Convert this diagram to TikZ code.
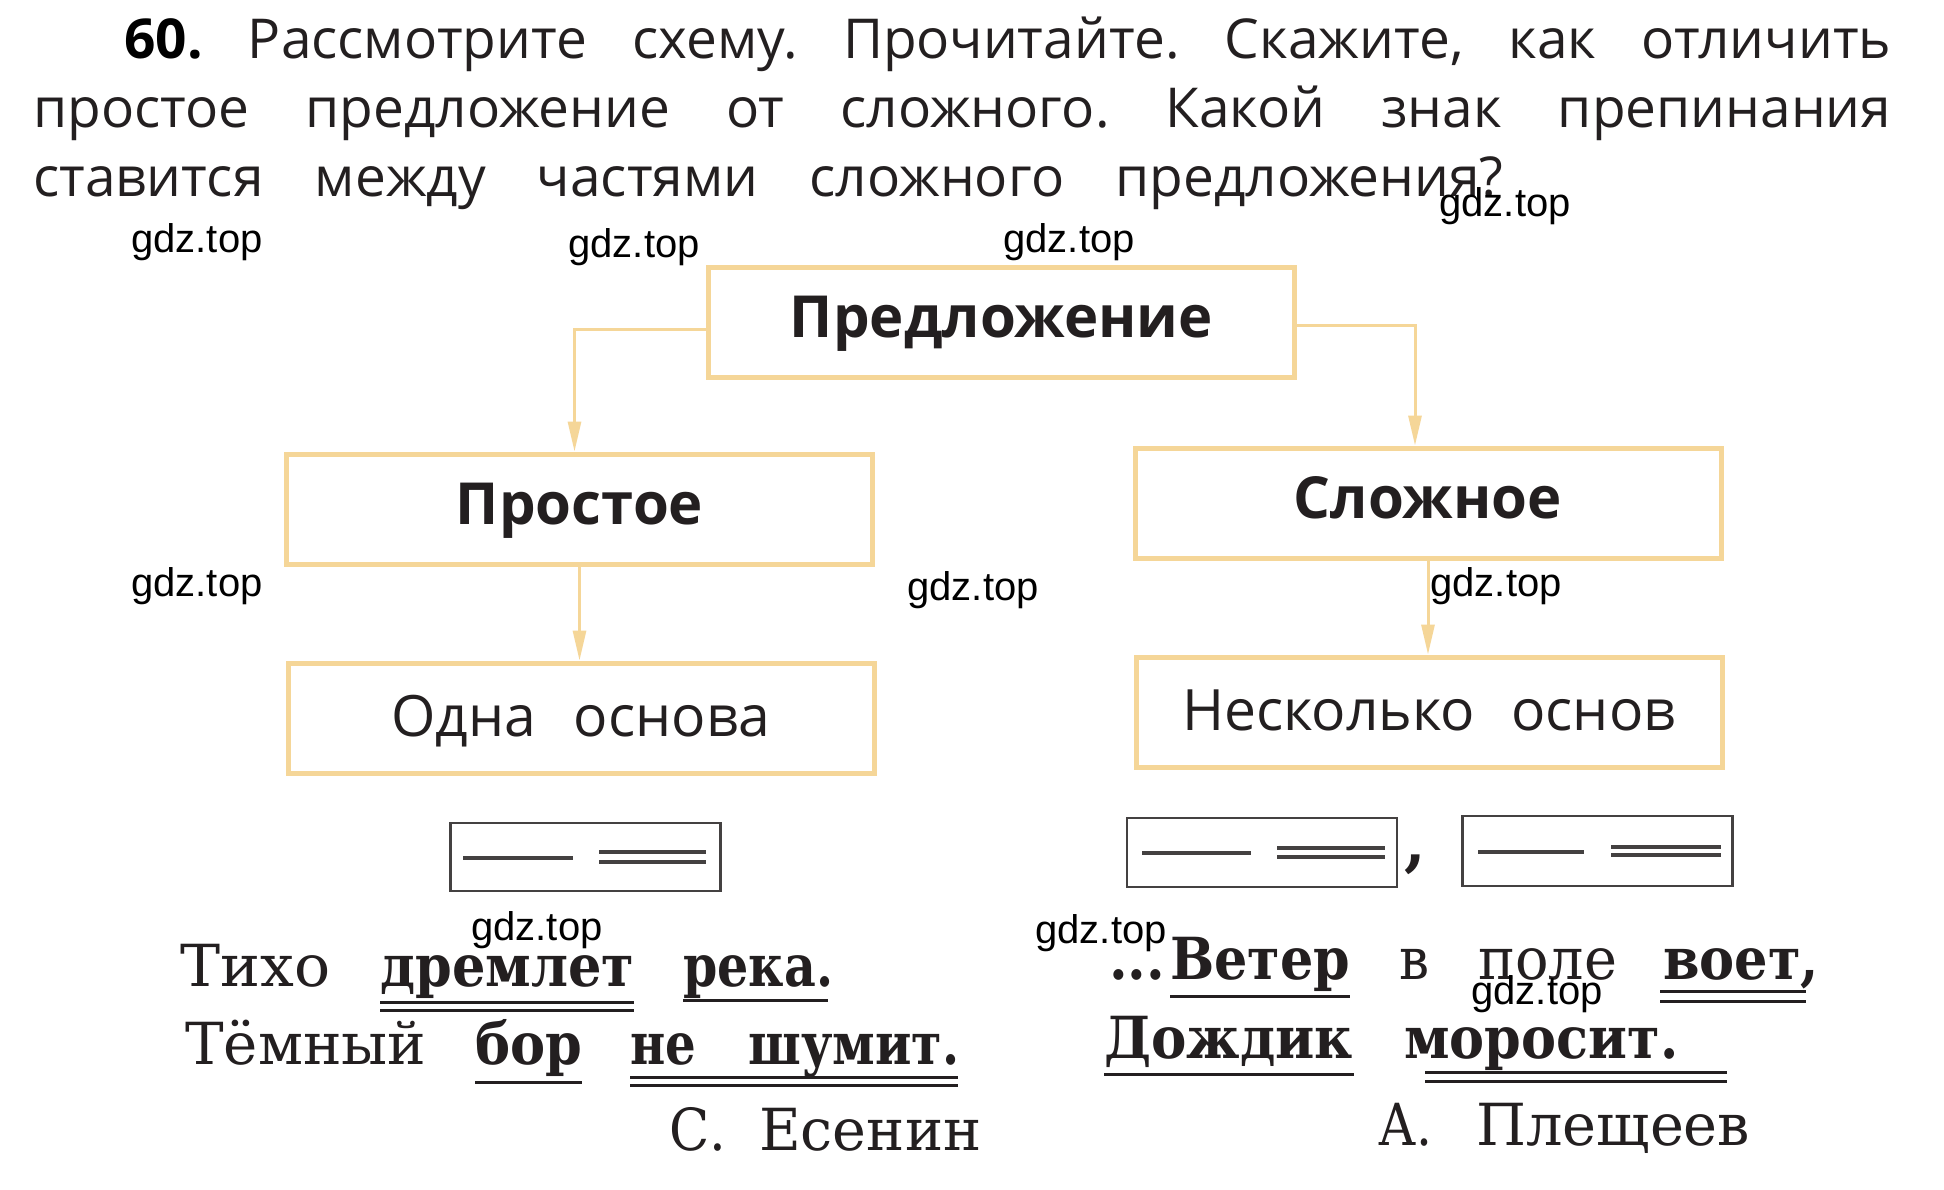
\documentclass[tikz,border=0pt]{standalone}
\usepackage{fontspec}
\usepackage{graphicx}
\setmainfont{Open Sans}
\newfontfamily\poemfont{DejaVu Serif}
\newfontfamily\wmfont{Liberation Sans}
\usetikzlibrary{arrows.meta}
\definecolor{tanline}{RGB}{245,214,152}
\definecolor{ink}{RGB}{35,31,32}
\newcommand\fitw[2]{\resizebox{#1}{\height}{#2}}
\frenchspacing
\tikzset{
  titleline/.style={anchor=base west, inner sep=0pt, text=ink, font=\fontsize{55}{60}\selectfont},
  catbox/.style={draw=tanline, line width=5pt, minimum width=586pt, minimum height=110pt, inner sep=0pt, text=ink},
  boldlbl/.style={font=\fontsize{58}{60}\selectfont\bfseries, text height=42pt, text depth=12pt},
  reglbl/.style={font=\fontsize{57}{60}\selectfont, text height=44pt, text depth=8pt},
  conn/.style={draw=tanline, line width=3pt, -{Triangle[length=30pt,width=13pt,fill=tanline]}},
  schbox/.style={draw=ink!85, line width=2.5pt, inner sep=0pt, minimum width=270pt, minimum height=68pt},
  predline/.style={draw=ink!85, line width=4pt},
  subjline/.style={draw=ink!85, line width=4pt},
  uline/.style={draw=ink, line width=3pt},
  pword/.style={anchor=base west, inner sep=0pt, text=ink, font=\fontsize{58}{60}\selectfont\poemfont},
  pbold/.style={pword, font=\fontsize{58}{60}\selectfont\poemfont\bfseries},
  wmark/.style={anchor=base, inner sep=0pt, text=black, font=\fontsize{40}{44}\selectfont\wmfont}
}
\begin{document}
\begin{tikzpicture}[x=1pt,y=-1pt]
\useasboundingbox[fill=white] (0,0) rectangle (1944,1189);

% question text
\node[titleline] (t1) at (124,58) {\makebox[1767pt][s]{\textbf{\color{black}60.} Рассмотрите схему. Прочитайте. Скажите, как отличить}};
\node[titleline] (t2) at (33,127) {\makebox[1858pt][s]{простое предложение от сложного. Какой знак препинания}};
\node[titleline] (t3) at (33,196) {\makebox[1470pt][s]{ставится между частями сложного предложения?}};

% category boxes
\node[catbox, boldlbl] (pred) at (1001.5,322) {Предложение};
\node[catbox, boldlbl] (pros) at (579.5,509) {Простое};
\node[catbox, boldlbl] (slo) at (1428,503) {Сложное};
\node[catbox, reglbl] (odna) at (581,718) {Одна\hspace{38pt}основа};
\node[catbox, reglbl] (nesk) at (1429,712) {Несколько\hspace{36pt}основ};

% connectors
\draw[conn] ([yshift=-7pt]pred.west) -| ([xshift=-5pt]pros.north);
\draw[conn] ([yshift=-3pt]pred.east) -| ([xshift=-13pt]slo.north);
\draw[conn] (pros.south) -- (pros.south |- odna.north);
\draw[conn] (slo.south) -- (slo.south |- nesk.north);

% schemes
\node[schbox] (s1) at (585.5,857) {};
\draw[subjline] (463,858) -- (573,858);
\draw[predline] (599,852) -- (706,852);
\draw[predline] (599,862) -- (706,862);

\node[schbox, minimum height=69pt] (s2) at (1262,852.5) {};
\draw[subjline] (1142,853) -- (1251,853);
\draw[predline] (1277,848) -- (1385,848);
\draw[predline] (1277,857) -- (1385,857);

\node[anchor=base, inner sep=0pt, text=ink, font=\fontsize{62}{62}\selectfont\poemfont\bfseries] (comma) at (1415,864) {,};

\node[schbox, minimum height=70pt] (s3) at (1597.5,851) {};
\draw[subjline] (1478,852) -- (1584,852);
\draw[predline] (1611,847) -- (1721,847);
\draw[predline] (1611,855) -- (1721,855);

% left poem
\node[pword] (w1) at (180,986) {\fitw{150pt}{Тихо}};
\node[pbold] (w2) at (380,986) {\fitw{254pt}{дремлет}};
\node[pbold] (w3) at (683,986) {\fitw{150pt}{река.}};
\draw[uline] (380,1002) -- (634,1002);
\draw[uline] (380,1010) -- (634,1010);
\draw[uline] (683,1000) -- (828,1000);

\node[pword] (w4) at (185,1064) {\fitw{241pt}{Тёмный}};
\node[pbold] (w5) at (475,1064) {\fitw{107pt}{бор}};
\node[pbold] (w6) at (630,1064) {\fitw{66pt}{не}};
\node[pbold] (w7) at (748,1064) {\fitw{211pt}{шумит.}};
\draw[uline] (475,1082) -- (582,1082);
\draw[uline] (630,1077) -- (958,1077);
\draw[uline] (630,1085) -- (958,1085);

\node[pword] (a1) at (669,1150) {\fitw{57pt}{С.}};
\node[pword] (a2) at (759,1150) {\fitw{222pt}{Есенин}};

% right poem
\node[pbold] (r0) at (1109,979) {\fitw{56pt}{...}};
\node[pbold] (r1) at (1170,979) {\fitw{180pt}{Ветер}};
\node[pword] (r2) at (1399,979) {\fitw{30pt}{в}};
\node[pword] (r3) at (1478,979) {\fitw{139pt}{поле}};
\node[pbold] (r4) at (1663,979) {\fitw{156pt}{воет,}};
\draw[uline] (1170,996) -- (1350,996);
\draw[uline] (1660,991) -- (1806,991);
\draw[uline] (1660,1001) -- (1806,1001);

\node[pbold] (r5) at (1104,1058) {\fitw{249pt}{Дождик}};
\node[pbold] (r6) at (1404,1058) {\fitw{274pt}{моросит.}};
\draw[uline] (1104,1074) -- (1354,1074);
\draw[uline] (1425,1072) -- (1727,1072);
\draw[uline] (1425,1081) -- (1727,1081);

\node[pword] (b1) at (1378,1145) {\fitw{54pt}{А.}};
\node[pword] (b2) at (1476,1145) {\fitw{274pt}{Плещеев}};

% watermarks
\node[wmark] (g1) at (197,252) {gdz.top};
\node[wmark] (g2) at (634,257) {gdz.top};
\node[wmark] (g3) at (1069,252) {gdz.top};
\node[wmark] (g4) at (1505,216) {gdz.top};
\node[wmark] (g5) at (197,596) {gdz.top};
\node[wmark] (g6) at (973,600) {gdz.top};
\node[wmark] (g7) at (1496,596) {gdz.top};
\node[wmark] (g8) at (537,940) {gdz.top};
\node[wmark] (g9) at (1101,943) {gdz.top};
\node[wmark] (g10) at (1537,1004) {gdz.top};
\end{tikzpicture}
\end{document}
